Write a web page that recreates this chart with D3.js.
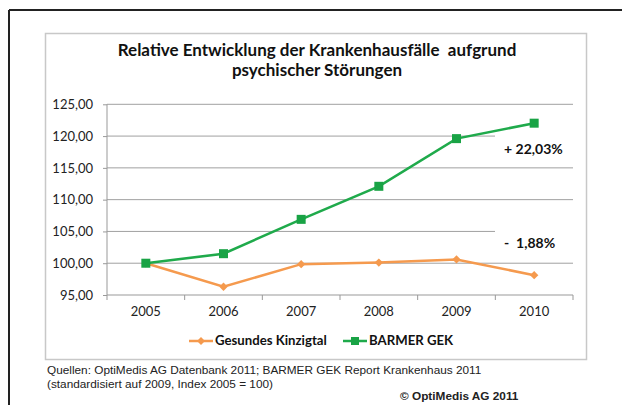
<!DOCTYPE html>
<html><head><meta charset="utf-8">
<script src="https://cdn.jsdelivr.net/npm/d3@7"></script>
<style>body{margin:0;background:#fff}svg{display:block}</style>
</head><body>
<script>
const years = ["2005","2006","2007","2008","2009","2010"];
const kinzigtal = [100.0, 96.3, 99.85, 100.1, 100.6, 98.12];
const barmer = [100.0, 101.5, 106.9, 112.1, 119.6, 122.03];
const yTicks = [95,100,105,110,115,120,125];
const seriesNames = ["Gesundes Kinzigtal","BARMER GEK"];
const annotations = ["+ 22,03%", "-  1,88%"];
const titleLines = ["Relative Entwicklung der Krankenhausfälle  aufgrund","psychischer Störungen"];
const footer = ["Quellen: OptiMedis AG Datenbank 2011; BARMER GEK Report Krankenhaus 2011","(standardisiert auf 2009, Index 2005 = 100)"];
const copyright = "© OptiMedis AG 2011";

const W=622,H=405;
const svg=d3.select("body").append("svg").attr("width",W).attr("height",H);
const cal="Lato, 'Open Sans', sans-serif";
const orange="#f59a4e", green="#1faa4b";

// outer frame
svg.append("line").attr("x1",9).attr("x2",W).attr("y1",10).attr("y2",10).attr("stroke","#222").attr("stroke-width",2);
svg.append("line").attr("x1",9).attr("x2",9).attr("y1",10).attr("y2",H).attr("stroke","#222").attr("stroke-width",2);
// chart box
svg.append("rect").attr("x",45.5).attr("y",33.5).attr("width",541).attr("height",326).attr("fill","#fff").attr("stroke","#c8c8c8").attr("stroke-width",1.5);

const x=d3.scaleBand().domain(years).range([107,573]);
const y=d3.scaleLinear().domain([95,125]).range([295,104.3]);

// gridlines
svg.append("g").selectAll("line").data(yTicks.filter(t=>t>95)).join("line")
 .attr("x1",107).attr("x2",573).attr("y1",d=>y(d)).attr("y2",d=>y(d)).attr("stroke","#a0a0a0").attr("stroke-width",1);

// y axis
const ya=svg.append("g").attr("transform","translate(107,0)").call(d3.axisLeft(y).tickValues(yTicks).tickSize(4).tickPadding(10).tickFormat(d=>d3.format(".2f")(d).replace(".",",")));
ya.select(".domain").attr("stroke","#999").attr("d","M0,104.3V295");
ya.selectAll(".tick line").attr("stroke","#999");
ya.selectAll("text").attr("font-family",cal).attr("font-size",13).attr("fill","#222");

// x axis
const xa=svg.append("g").attr("transform","translate(0,295)");
xa.append("line").attr("x1",107).attr("x2",573).attr("stroke","#999");
xa.selectAll("line.tk").data(years.concat(["end"])).join("line").attr("class","tk")
 .attr("x1",(d,i)=>i<years.length?x(d):x.range()[1]).attr("x2",(d,i)=>i<years.length?x(d):x.range()[1])
 .attr("y1",0).attr("y2",5).attr("stroke","#999");
xa.selectAll("text").data(years).join("text").attr("x",d=>x(d)+x.bandwidth()/2).attr("y",18)
 .attr("dominant-baseline","middle").attr("text-anchor","middle").attr("font-family",cal).attr("font-size",13).attr("fill","#222").text(d=>d);

// annotation boxes
const ann=[{t:annotations[0],v:117.97},{t:annotations[1],v:103.18}];
svg.selectAll("rect.ann").data(ann).join("rect").attr("class","ann")
 .attr("x",495).attr("y",d=>y(d.v)-15).attr("width",82).attr("height",30).attr("fill","#fff");

// lines
const cx=d=>x(d)+x.bandwidth()/2;
const line=d3.line().x((d,i)=>cx(years[i])).y(d=>y(d));
svg.append("path").datum(kinzigtal).attr("d",line).attr("fill","none").attr("stroke",orange).attr("stroke-width",2.5);
svg.append("path").datum(barmer).attr("d",line).attr("fill","none").attr("stroke",green).attr("stroke-width",2.5);
svg.selectAll("path.dm").data(kinzigtal).join("path").attr("class","dm")
 .attr("d",d3.symbol(d3.symbolDiamond2,45)).attr("transform",(d,i)=>`translate(${cx(years[i])},${y(d)})`).attr("fill",orange);
svg.selectAll("rect.sq").data(barmer).join("rect").attr("class","sq")
 .attr("x",(d,i)=>cx(years[i])-4.5).attr("y",d=>y(d)-4.5).attr("width",9).attr("height",9).attr("fill","#19a345");

// annotation texts
svg.selectAll("text.ann").data(ann).join("text").attr("class","ann")
 .attr("x",504).attr("y",d=>y(d.v)+1).attr("dominant-baseline","middle").attr("font-family",cal).attr("font-weight","bold").attr("font-size",14).attr("fill","#111").style("white-space","pre").text(d=>d.t);

// title
svg.selectAll("text.title").data(titleLines).join("text").attr("class","title")
 .attr("x",317).attr("y",(d,i)=>52+i*19.5).attr("dominant-baseline","middle").attr("text-anchor","middle")
 .attr("font-family",cal).attr("font-weight","bold").attr("font-size",17).attr("fill","#111").style("white-space","pre").text(d=>d);

// legend
const leg=[{n:seriesNames[0],c:orange,m:"d",x0:189},{n:seriesNames[1],c:green,m:"s",x0:343}];
const lg=svg.append("g");
leg.forEach(l=>{
  lg.append("line").attr("x1",l.x0).attr("x2",l.x0+24).attr("y1",341).attr("y2",341).attr("stroke",l.c).attr("stroke-width",2.5);
  if(l.m==="d") lg.append("path").attr("d",d3.symbol(d3.symbolDiamond2,40)).attr("transform",`translate(${l.x0+12},341)`).attr("fill",l.c);
  else lg.append("rect").attr("x",l.x0+8).attr("y",337).attr("width",8).attr("height",8).attr("fill","#19a345");
  lg.append("text").attr("x",l.x0+26).attr("y",342).attr("dominant-baseline","middle").attr("font-family",cal).attr("font-weight","bold").attr("font-size",13.2).attr("fill","#111").text(l.n);
});

// footer
svg.selectAll("text.ft").data(footer).join("text").attr("class","ft")
 .attr("x",47).attr("y",(d,i)=>371+i*14).attr("dominant-baseline","middle").attr("font-family","'Liberation Sans', Arial, sans-serif").attr("font-size",11.8).attr("fill","#222").text(d=>d);
svg.append("text").attr("x",400).attr("y",397).attr("dominant-baseline","middle").attr("font-family","'Liberation Sans', Arial, sans-serif").attr("font-weight","bold").attr("font-size",11.8).attr("fill","#222").text(copyright);
</script>
</body></html>
